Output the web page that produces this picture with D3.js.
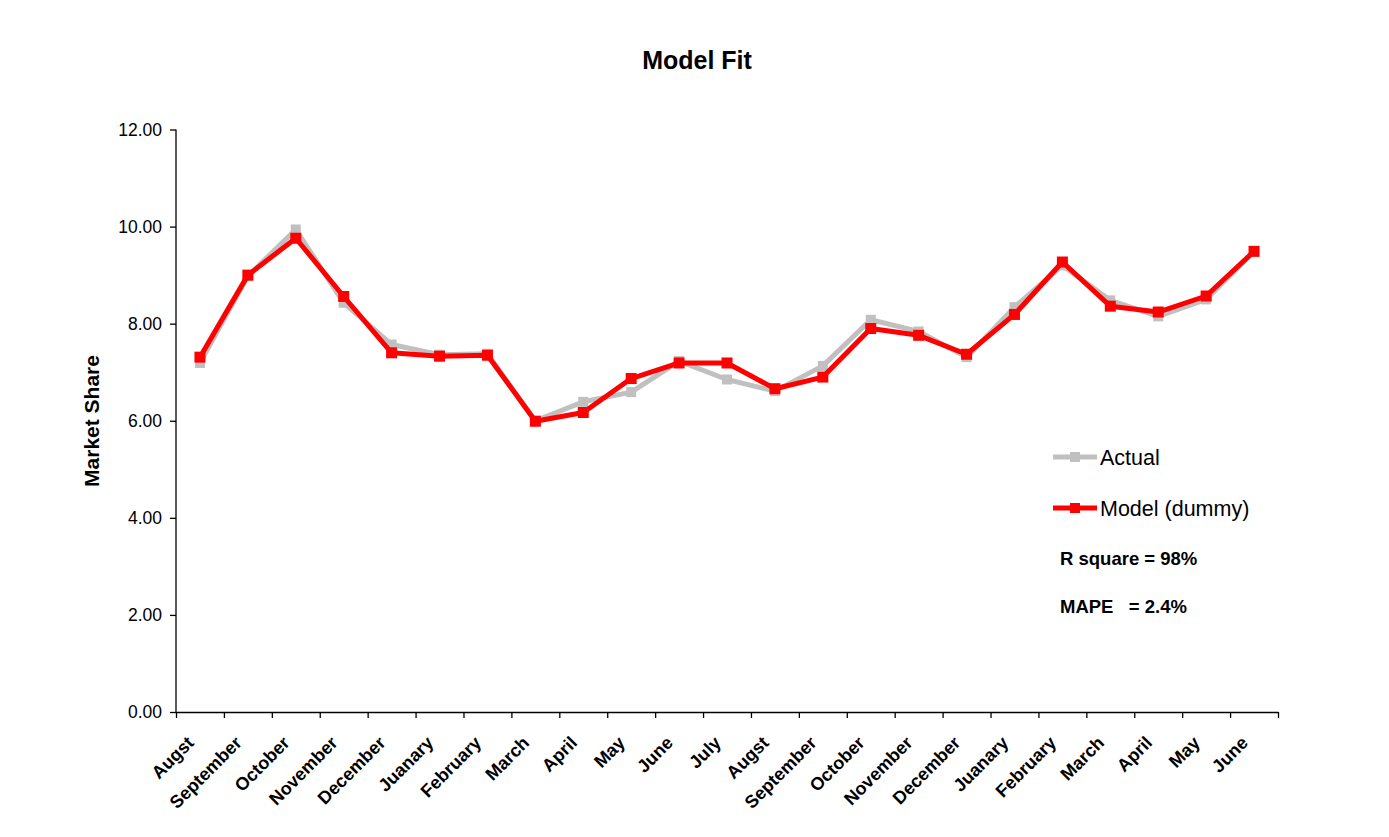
<!DOCTYPE html>
<html><head><meta charset="utf-8">
<script src="https://cdn.jsdelivr.net/npm/d3@7"></script>
<style>
body{margin:0;background:#fff;}
svg text{font-family:Arial,"Liberation Sans",sans-serif;}
</style></head>
<body><svg id="c" width="1389" height="837"></svg>
<script>
const categories = ["Augst","September","October","November","December","Juanary","February","March","April","May","June","July","Augst","September","October","November","December","Juanary","February","March","April","May","June"];
const actual = [7.19, 8.98, 9.94, 8.43, 7.57, 7.36, 7.38, 6.00, 6.39, 6.59, 7.23, 6.85, 6.61, 7.13, 8.08, 7.84, 7.31, 8.34, 9.20, 8.48, 8.15, 8.50, 9.49];
const model  = [7.31, 9.00, 9.76, 8.56, 7.40, 7.33, 7.35, 5.99, 6.17, 6.87, 7.19, 7.19, 6.66, 6.90, 7.90, 7.76, 7.37, 8.19, 9.27, 8.36, 8.24, 8.57, 9.49];
const yTicks = [0, 2, 4, 6, 8, 10, 12];
const seriesNames = ["Actual", "Model (dummy)"];
const stats = ["R square = 98%", "MAPE   = 2.4%"];

const svg = d3.select("#c");
const L = 176, R = 1278, T = 129.5, B = 712;
const x = d3.scaleBand().domain(d3.range(categories.length)).range([L, R]);
const xEdge = d3.scaleLinear().domain([0, categories.length]).range([L, R]);
const y = d3.scaleLinear().domain([0, 12]).range([B, T]);

// title
svg.append("text").attr("x", 697).attr("y", 69).attr("text-anchor", "middle")
  .attr("font-size", 25).attr("font-weight", "bold").text("Model Fit");

// y label
svg.append("text").attr("transform", "translate(99,421) rotate(-90)").attr("text-anchor", "middle")
  .attr("font-size", 21).attr("font-weight", "bold").text("Market Share");

// y axis
const ya = svg.append("g").attr("transform", `translate(${L},0)`)
  .call(d3.axisLeft(y).tickValues(yTicks).tickFormat(d3.format(".2f")).tickSize(6).tickPadding(8));
ya.select(".domain").attr("d", `M0,${T}V${B}`).attr("stroke", "#000").attr("stroke-width", 1.3);
ya.selectAll(".tick line").attr("stroke", "#000").attr("stroke-width", 1.3);
ya.selectAll(".tick text").attr("font-size", 17.5).attr("font-family", "Arial, 'Liberation Sans', sans-serif").attr("fill", "#000");

// x axis
const xa = svg.append("g").attr("transform", `translate(0,${B})`)
  .call(d3.axisBottom(xEdge).tickValues(d3.range(categories.length + 1)).tickFormat("").tickSize(6).tickSizeOuter(0));
xa.select(".domain").attr("stroke", "#000").attr("stroke-width", 1.3);
xa.selectAll(".tick line").attr("stroke", "#000").attr("stroke-width", 1.3);

svg.append("g").selectAll("text").data(categories).join("text")
  .attr("transform", (d, i) => `translate(${x(i) + x.bandwidth() / 2 - 5},${B + 32}) rotate(-45)`)
  .attr("text-anchor", "end").attr("font-size", 18).attr("font-weight", "bold").text(d => d);

// lines
const line = d3.line().x((d, i) => x(i) + x.bandwidth() / 2).y(d => y(d));
function drawSeries(vals, color, ms) {
  svg.append("path").datum(vals).attr("d", line).attr("fill", "none")
    .attr("stroke", color).attr("stroke-width", 5).attr("stroke-linejoin", "round");
  svg.append("g").selectAll("rect").data(vals).join("rect")
    .attr("x", (d, i) => x(i) + x.bandwidth() / 2 - ms / 2).attr("y", d => y(d) - ms / 2)
    .attr("width", ms).attr("height", ms).attr("fill", color);
}
drawSeries(actual, "#C0C0C0", 10);
drawSeries(model, "#FF0000", 11);

// legend
const leg = [{n: seriesNames[0], c: "#C0C0C0", y: 457}, {n: seriesNames[1], c: "#FF0000", y: 508}];
leg.forEach(l => {
  svg.append("line").attr("x1", 1053).attr("x2", 1097).attr("y1", l.y).attr("y2", l.y)
    .attr("stroke", l.c).attr("stroke-width", 5);
  svg.append("rect").attr("x", 1070).attr("y", l.y - 5).attr("width", 10).attr("height", 10).attr("fill", l.c);
  svg.append("text").attr("x", 1100).attr("y", l.y + 8).attr("font-size", 21.5).text(l.n);
});
svg.append("text").attr("x", 1060).attr("y", 565).attr("font-size", 18.5).attr("font-weight", "bold")
  .style("white-space", "pre").text(stats[0]);
svg.append("text").attr("x", 1060).attr("y", 613).attr("font-size", 18.5).attr("font-weight", "bold")
  .style("white-space", "pre").text(stats[1]);
</script></body></html>
